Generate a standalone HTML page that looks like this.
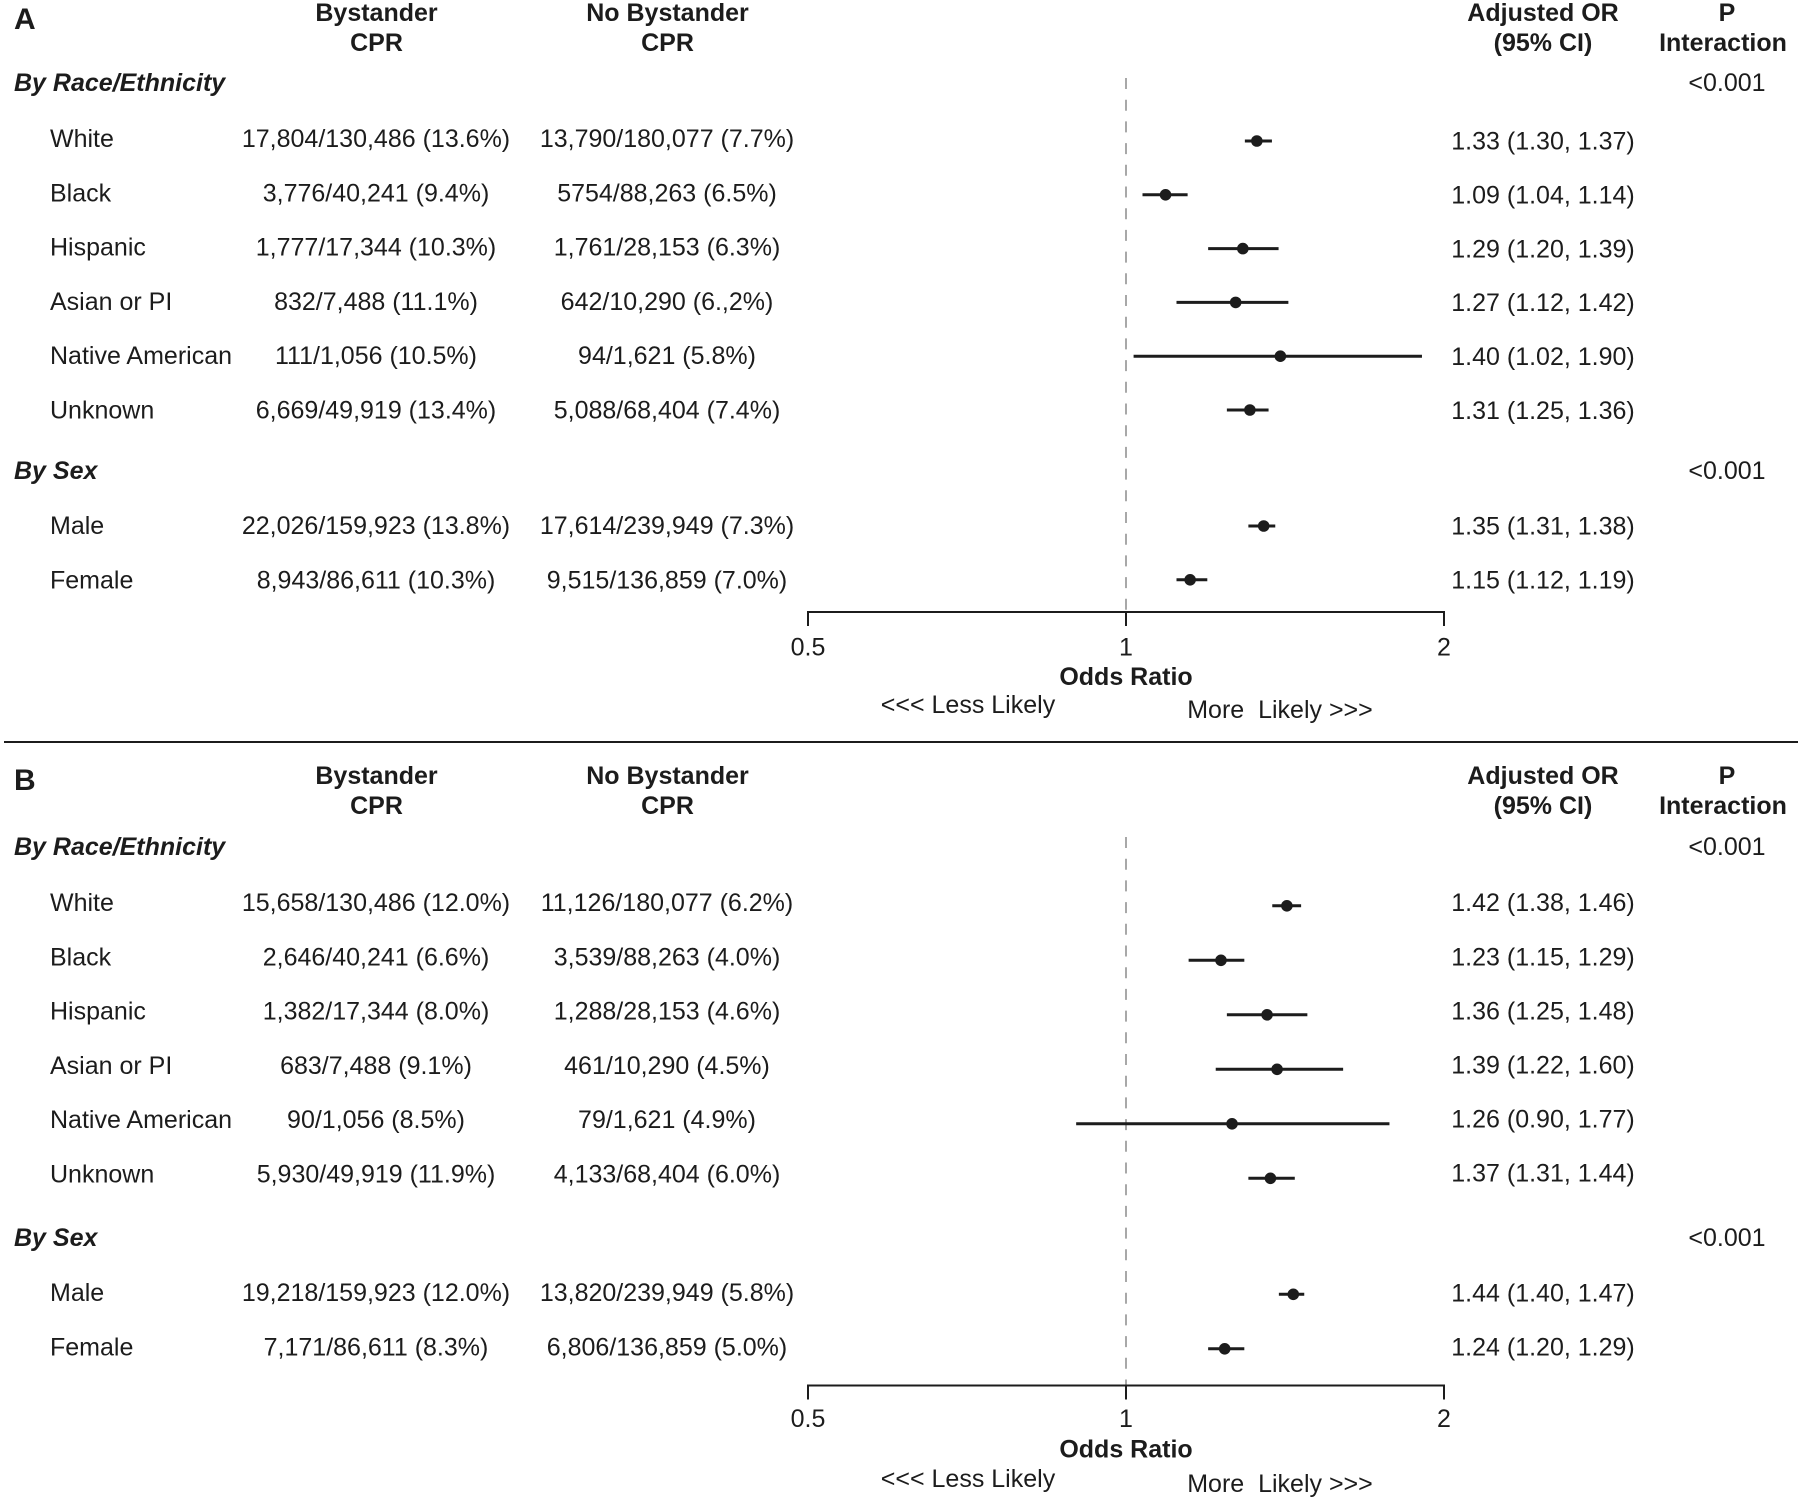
<!DOCTYPE html>
<html lang="en">
<head>
<meta charset="utf-8">
<title>Bystander CPR forest plot</title>
<style>
html,body{margin:0;padding:0;background:#fff;}
svg{display:block;}
text{font-family:"Liberation Sans",Arial,sans-serif;font-size:25px;fill:#1c1c1c;white-space:pre;}
.b{font-weight:bold;}
.m{text-anchor:middle;}
.gh{font-weight:bold;font-style:italic;}
</style>
</head>
<body>
<svg id="chart" xmlns="http://www.w3.org/2000/svg" width="1800" height="1500" viewBox="0 0 1800 1500">
  <rect width="1800" height="1500" fill="#fff"/>

  <g id="panelA">
    <text x="14" y="29" class="b" style="font-size:30px">A</text>
    <text x="376.5" y="21" class="b m">Bystander</text>
    <text x="376.5" y="51" class="b m">CPR</text>
    <text x="667.5" y="21" class="b m">No Bystander</text>
    <text x="667.5" y="51" class="b m">CPR</text>
    <text x="1543" y="21" class="b m">Adjusted OR</text>
    <text x="1543" y="51" class="b m">(95% CI)</text>
    <text x="1727" y="21" class="b m">P</text>
    <text x="1723" y="51" class="b m">Interaction</text>
    <text x="14" y="91" class="gh">By Race/Ethnicity</text>
    <text x="1727" y="91" class="m">&lt;0.001</text>
    <text x="14" y="479" class="gh">By Sex</text>
    <text x="1727" y="479" class="m">&lt;0.001</text>
    <text x="1126" y="685" class="b m">Odds Ratio</text>
    <text x="968" y="713" class="m">&lt;&lt;&lt; Less Likely</text>
    <text x="1280" y="718" class="m">More  Likely &gt;&gt;&gt;</text>
  </g>

  <line x1="4" x2="1798" y1="742" y2="742" stroke="#1c1c1c" stroke-width="2"/>

  <g id="panelB">
    <text x="14" y="790" class="b" style="font-size:30px">B</text>
    <text x="376.5" y="784" class="b m">Bystander</text>
    <text x="376.5" y="814" class="b m">CPR</text>
    <text x="667.5" y="784" class="b m">No Bystander</text>
    <text x="667.5" y="814" class="b m">CPR</text>
    <text x="1543" y="784" class="b m">Adjusted OR</text>
    <text x="1543" y="814" class="b m">(95% CI)</text>
    <text x="1727" y="784" class="b m">P</text>
    <text x="1723" y="814" class="b m">Interaction</text>
    <text x="14" y="855" class="gh">By Race/Ethnicity</text>
    <text x="1727" y="855" class="m">&lt;0.001</text>
    <text x="14" y="1246" class="gh">By Sex</text>
    <text x="1727" y="1246" class="m">&lt;0.001</text>
    <text x="1126" y="1457.5" class="b m">Odds Ratio</text>
    <text x="968" y="1487" class="m">&lt;&lt;&lt; Less Likely</text>
    <text x="1280" y="1492" class="m">More  Likely &gt;&gt;&gt;</text>
  </g>
</svg>

<script>
const categories = ["White","Black","Hispanic","Asian or PI","Native American","Unknown","Male","Female"];
const tickValues = [0.5,1,2];
const tickLabels = ["0.5","1","2"];

const bystanderA = ["17,804/130,486 (13.6%)","3,776/40,241 (9.4%)","1,777/17,344 (10.3%)","832/7,488 (11.1%)","111/1,056 (10.5%)","6,669/49,919 (13.4%)","22,026/159,923 (13.8%)","8,943/86,611 (10.3%)"];
const noBystanderA = ["13,790/180,077 (7.7%)","5754/88,263 (6.5%)","1,761/28,153 (6.3%)","642/10,290 (6.,2%)","94/1,621 (5.8%)","5,088/68,404 (7.4%)","17,614/239,949 (7.3%)","9,515/136,859 (7.0%)"];
const oddsRatioA = [1.33,1.09,1.29,1.27,1.40,1.31,1.35,1.15];
const ciLowerA = [1.30,1.04,1.20,1.12,1.02,1.25,1.31,1.12];
const ciUpperA = [1.37,1.14,1.39,1.42,1.90,1.36,1.38,1.19];

const bystanderB = ["15,658/130,486 (12.0%)","2,646/40,241 (6.6%)","1,382/17,344 (8.0%)","683/7,488 (9.1%)","90/1,056 (8.5%)","5,930/49,919 (11.9%)","19,218/159,923 (12.0%)","7,171/86,611 (8.3%)"];
const noBystanderB = ["11,126/180,077 (6.2%)","3,539/88,263 (4.0%)","1,288/28,153 (4.6%)","461/10,290 (4.5%)","79/1,621 (4.9%)","4,133/68,404 (6.0%)","13,820/239,949 (5.8%)","6,806/136,859 (5.0%)"];
const oddsRatioB = [1.42,1.23,1.36,1.39,1.26,1.37,1.44,1.24];
const ciLowerB = [1.38,1.15,1.25,1.22,0.90,1.31,1.40,1.20];
const ciUpperB = [1.46,1.29,1.48,1.60,1.77,1.44,1.47,1.29];

const NS = "http://www.w3.org/2000/svg";
const INK = "#1c1c1c";
const RACE_ROWS = 6;

function xScale(v){ return 1126 + Math.log2(v) * 318; }
function fmt(v){ return v.toFixed(2); }

function svgEl(tag, parent, attrs){
  const el = document.createElementNS(NS, tag);
  for (const k in attrs) el.setAttribute(k, attrs[k]);
  parent.appendChild(el);
  return el;
}

function rowCenter(i, layout){
  return i < RACE_ROWS ? layout.raceTop + i * layout.step : layout.sexTop + (i - RACE_ROWS) * layout.step;
}

function drawPanel(g, cfg){
  // reference line at OR = 1
  const ref = svgEl("line", g, {x1:xScale(1), x2:xScale(1), y1:cfg.refTop, y2:cfg.axisY, stroke:"#a8a8a8", "stroke-width":2, "stroke-dasharray":"11 10.7"});
  
  

  categories.forEach(function(cat, i){
    const textY = rowCenter(i, cfg.leftRows) + 9;
    const rightY = rowCenter(i, cfg.rightRows) + 9;
    const markY = rowCenter(i, cfg.markRows);
    const slug = cat.toLowerCase().replace(/\s+/g, '-');

    const label = svgEl("text", g, {x:50, y:textY});
    label.textContent = cat;
    
    

    const by = svgEl("text", g, {x:376, y:textY, class:"m"});
    by.textContent = cfg.bystander[i];
    
    

    const nb = svgEl("text", g, {x:667, y:textY, class:"m"});
    nb.textContent = cfg.noBystander[i];
    
    

    const orText = svgEl("text", g, {x:1543, y:rightY, class:"m"});
    orText.textContent = fmt(cfg.or[i]) + " (" + fmt(cfg.lo[i]) + ", " + fmt(cfg.hi[i]) + ")";
    
    

    const ci = svgEl("line", g, {x1:xScale(cfg.lo[i]), x2:xScale(cfg.hi[i]), y1:markY, y2:markY, stroke:INK, "stroke-width":3, "stroke-linecap":"square"});
    
    

    const pt = svgEl("circle", g, {cx:xScale(cfg.or[i]), cy:markY, r:5.8, fill:INK});
    
    
  });

  // x axis
  const lo = xScale(tickValues[0]);
  const hi = xScale(tickValues[tickValues.length - 1]);
  const axis = svgEl("line", g, {x1:lo - 1, x2:hi + 1, y1:cfg.axisY, y2:cfg.axisY, stroke:INK, "stroke-width":2});
  
  

  tickValues.forEach(function(v, i){
    const tick = svgEl("line", g, {x1:xScale(v), x2:xScale(v), y1:cfg.axisY, y2:cfg.axisY + 14, stroke:INK, "stroke-width":2});
    
    

    const t = svgEl("text", g, {x:xScale(v), y:cfg.axisY + cfg.tickLabelGap, class:"m"});
    t.textContent = tickLabels[i];
    
    
  });
}

drawPanel(document.getElementById("panelA"), {
  bystander:bystanderA, noBystander:noBystanderA, or:oddsRatioA, lo:ciLowerA, hi:ciUpperA,
  leftRows:{raceTop:138, sexTop:525, step:54.3},
  rightRows:{raceTop:140.5, sexTop:525.5, step:53.9},
  markRows:{raceTop:141, sexTop:526, step:53.8},
  refTop:78, axisY:612, tickLabelGap:43.5
});
drawPanel(document.getElementById("panelB"), {
  bystander:bystanderB, noBystander:noBystanderB, or:oddsRatioB, lo:ciLowerB, hi:ciUpperB,
  leftRows:{raceTop:902, sexTop:1292, step:54.3},
  rightRows:{raceTop:902.2, sexTop:1292.5, step:54.1},
  markRows:{raceTop:905.8, sexTop:1294.3, step:54.5},
  refTop:837, axisY:1385.5, tickLabelGap:41.5
});
</script>
</body>
</html>
